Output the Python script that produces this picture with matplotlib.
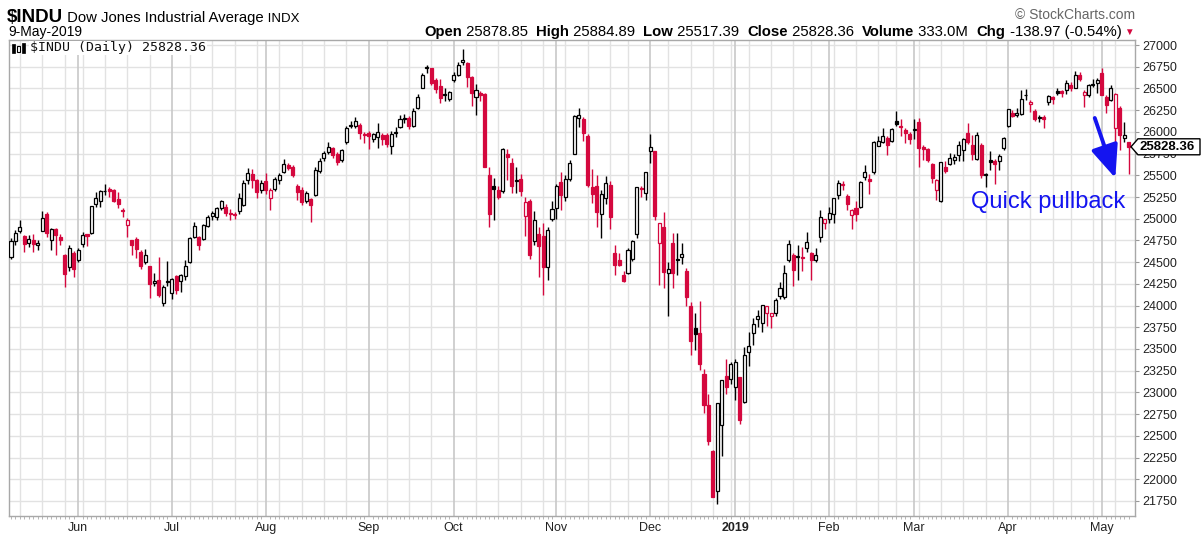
import numpy as np
import pandas as pd
import matplotlib
matplotlib.use("Agg")
import matplotlib.pyplot as plt
from matplotlib.patches import Polygon, Rectangle

# ---------------- data ----------------
START = "2018-05-10"
END = "2019-05-09"
HOLIDAYS = ["2018-05-28", "2018-07-04", "2018-09-03", "2018-11-22", "2018-12-05",
            "2018-12-25", "2019-01-01", "2019-01-21", "2019-02-18", "2019-04-19"]

OPEN = [24560, 24740, 24860, 24800, 24715, 24750, 24700, 24860, 25050, 24750,
        24880, 24790, 24580, 24440, 24610, 24520, 24710, 24820, 24830, 25170,
        25200, 25315, 25340, 25330, 25230, 25100, 24930, 24750, 24770, 24620,
        24500, 24450, 24260, 24300, 24030, 24280, 24140, 24340, 24280, 24340,
        24500, 24790, 24790, 24770, 24920, 25030, 25020, 25120, 25140, 25070,
        25050, 25090, 25160, 25450, 25510, 25450, 25330, 25440, 25240, 25340,
        25450, 25540, 25620, 25590, 25380, 25330, 25200, 25230, 25270, 25550,
        25700, 25770, 25810, 25750, 25680, 25880, 26070, 26070, 26080, 25970,
        25990, 25920, 25940, 25960, 25960, 25840, 25990, 26060, 26160, 26160,
        26070, 26280, 26510, 26740, 26730, 26600, 26530, 26420, 26380, 26600,
        26650, 26810, 26790, 26630, 26400, 26450, 26440, 25500, 25380, 25330,
        25320, 25740, 25640, 25430, 25460, 25030, 25200, 24740, 24820, 24800,
        24440, 25000, 25120, 25420, 25250, 25460, 25750, 26160, 26150, 25950,
        25370, 25380, 25050, 25240, 25390, 24610, 24530, 24350, 24380, 24540,
        24820, 25340, 25300, 25780, 25780, 24720, 24900, 24380, 24720, 24540,
        24560, 24400, 24000, 23740, 23680, 23210, 22850, 22320, 21860, 22630,
        23190, 23150, 23060, 23180, 22890, 23470, 23680, 23850, 23800, 23910,
        23880, 23920, 24110, 24100, 24530, 24580, 24560, 24560, 24660, 24600,
        24520, 24790, 24950, 25000, 25050, 25270, 25400, 25260, 25040, 25120,
        25130, 25480, 25460, 25540, 25840, 25880, 25930, 25890, 26130, 26060,
        26020, 25980, 26020, 26110, 25830, 25800, 25630, 25330, 25200, 25600,
        25630, 25680, 25730, 25790, 25990, 25850, 25690, 25850, 25500, 25680,
        25660, 25670, 25810, 26070, 26220, 26200, 26210, 26420, 26320, 26240,
        26160, 26170, 26340, 26400, 26474, 26470, 26480, 26540, 26505, 26660,
        26424, 26430, 26540, 26560, 26680, 26405, 26367, 26040, 26275, 25930,
        25879]
HIGH = [24775, 24870, 24985, 24810, 24810, 24825, 24760, 25086, 25080, 24890,
        24890, 24820, 24590, 24700, 24630, 24660, 24850, 24825, 25150, 25312,
        25330, 25400, 25360, 25340, 25311, 25120, 25005, 24760, 24790, 24640,
        24650, 24460, 24370, 24560, 24240, 24510, 24320, 24350, 24360, 24520,
        24790, 24960, 24800, 24940, 25040, 25090, 25130, 25220, 25170, 25110,
        25080, 25300, 25450, 25580, 25570, 25460, 25450, 25530, 25350, 25480,
        25530, 25690, 25640, 25620, 25400, 25360, 25320, 25240, 25600, 25700,
        25780, 25880, 25830, 25770, 25800, 26070, 26120, 26170, 26100, 26000,
        26010, 25990, 26100, 25990, 25990, 26010, 26060, 26190, 26210, 26180,
        26280, 26440, 26680, 26770, 26740, 26620, 26610, 26500, 26470, 26690,
        26800, 26951, 26800, 26640, 26550, 26470, 26450, 25600, 25470, 25380,
        25820, 25800, 25700, 25600, 25520, 25250, 25230, 25090, 24900, 24950,
        24900, 25200, 25400, 25540, 25500, 25680, 26190, 26280, 26170, 25980,
        25570, 25500, 25330, 25490, 25440, 24700, 24600, 24400, 24660, 24760,
        25370, 25380, 25540, 25980, 25780, 24950, 25080, 24500, 24830, 24830,
        24720, 24430, 24040, 23910, 24050, 23270, 22980, 22340, 22880, 23140,
        23380, 23350, 23390, 23180, 23520, 23690, 23860, 23950, 24000, 24000,
        23920, 24090, 24270, 24470, 24750, 24600, 24700, 24680, 24850, 24620,
        24660, 25100, 25000, 25140, 25240, 25450, 25440, 25280, 25110, 25200,
        25440, 25620, 25520, 25890, 25950, 26050, 25950, 26050, 26240, 26150,
        26040, 26000, 26150, 26160, 25850, 25810, 25640, 25460, 25650, 25660,
        25760, 25750, 25900, 25930, 26100, 25960, 26000, 25870, 25530, 25780,
        25690, 25750, 25940, 26260, 26250, 26280, 26480, 26490, 26370, 26260,
        26200, 26200, 26420, 26410, 26500, 26480, 26600, 26570, 26700, 26690,
        26480, 26550, 26610, 26620, 26740, 26420, 26540, 26450, 26300, 26117,
        25885]
LOW = [24540, 24700, 24840, 24620, 24680, 24620, 24640, 24860, 24790, 24640,
       24580, 24700, 24217, 24400, 24330, 24500, 24680, 24690, 24820, 25140,
       25140, 25273, 25250, 25190, 25120, 25020, 24793, 24580, 24544, 24420,
       24480, 24084, 24220, 24100, 23997, 24230, 24080, 24130, 24160, 24300,
       24490, 24780, 24640, 24750, 24900, 24990, 24990, 25100, 25030, 24990,
       25000, 25060, 25150, 25400, 25350, 25240, 25300, 25290, 25100, 25320,
       25400, 25530, 25560, 25480, 25220, 25160, 25180, 24965, 25260, 25530,
       25660, 25750, 25700, 25620, 25650, 25860, 26040, 26050, 25920, 25870,
       25800, 25880, 25810, 25850, 25830, 25740, 25940, 26050, 26100, 26030,
       26060, 26260, 26500, 26680, 26540, 26450, 26330, 26350, 26350, 26580,
       26640, 26770, 26520, 26300, 26190, 26350, 25600, 24900, 24990, 25230,
       25300, 25450, 25300, 25300, 25260, 24800, 24540, 24700, 24330, 24122,
       24300, 24970, 25000, 25100, 25200, 25440, 25740, 26060, 25890, 25360,
       25180, 24900, 24780, 25170, 24880, 24350, 24450, 24270, 24360, 24510,
       24780, 25250, 25220, 25640, 24990, 24242, 24200, 23880, 24200, 24350,
       24480, 24000, 23430, 23490, 23260, 22760, 22400, 21792, 21712, 22270,
       22980, 23100, 22910, 22640, 22880, 23300, 23550, 23750, 23700, 23760,
       23740, 23880, 24080, 24080, 24500, 24220, 24290, 24400, 24620, 24300,
       24500, 24730, 24880, 24950, 24950, 25230, 25330, 25100, 24880, 24970,
       25120, 25450, 25290, 25520, 25840, 25870, 25730, 25880, 26070, 25950,
       25870, 25860, 25920, 25600, 25680, 25650, 25410, 25210, 25190, 25530,
       25620, 25630, 25670, 25670, 25860, 25680, 25680, 25470, 25360, 25560,
       25400, 25560, 25790, 26060, 26170, 26170, 26190, 26370, 26230, 26120,
       26110, 26050, 26310, 26320, 26420, 26400, 26440, 26470, 26500, 26590,
       26290, 26400, 26520, 26450, 26420, 26217, 26360, 25800, 25790, 25887,
       25517]
CLOSE = [24739, 24831, 24899, 24706, 24768, 24713, 24715, 25013, 24834, 24886,
         24811, 24753, 24361, 24667, 24416, 24635, 24813, 24799, 25146, 25241,
         25317, 25322, 25320, 25201, 25175, 25090, 24987, 24700, 24657, 24461,
         24581, 24252, 24283, 24117, 24216, 24271, 24307, 24174, 24356, 24456,
         24776, 24920, 24700, 24924, 25019, 25064, 25120, 25199, 25064, 25058,
         25044, 25241, 25414, 25527, 25451, 25307, 25415, 25333, 25326, 25462,
         25502, 25628, 25583, 25509, 25313, 25187, 25299, 25162, 25558, 25669,
         25758, 25822, 25733, 25656, 25790, 26049, 26064, 26124, 25986, 25964,
         25952, 25974, 25995, 25916, 25857, 25971, 25998, 26145, 26154, 26062,
         26246, 26405, 26657, 26743, 26562, 26492, 26385, 26439, 26458, 26651,
         26774, 26828, 26627, 26447, 26486, 26430, 25599, 25053, 25340, 25250,
         25798, 25706, 25380, 25444, 25317, 25191, 24583, 24985, 24689, 24443,
         24875, 25116, 25380, 25271, 25462, 25636, 26181, 26191, 25989, 25388,
         25286, 25080, 25289, 25413, 25017, 24465, 24464, 24286, 24640, 24748,
         25366, 25339, 25538, 25826, 25027, 24947, 24389, 24423, 24370, 24527,
         24597, 24100, 23592, 23675, 23323, 22859, 22445, 21792, 22878, 23138,
         23062, 23327, 23346, 22686, 23433, 23531, 23787, 23879, 24001, 23996,
         23910, 24066, 24207, 24370, 24706, 24404, 24575, 24553, 24737, 24528,
         24580, 25015, 24999, 25064, 25239, 25411, 25390, 25169, 25106, 25053,
         25425, 25543, 25439, 25883, 25891, 25954, 25850, 26031, 26091, 26057,
         25985, 25916, 26026, 25820, 25806, 25673, 25473, 25450, 25650, 25554,
         25702, 25709, 25848, 25914, 25887, 25745, 25962, 25502, 25516, 25658,
         25625, 25717, 25928, 26258, 26179, 26218, 26384, 26425, 26341, 26150,
         26157, 26143, 26412, 26384, 26452, 26449, 26559, 26511, 26656, 26609,
         26462, 26543, 26554, 26593, 26430, 26308, 26505, 26438, 25965, 25968,
         25828]

MONTH_LABELS = ["Jun", "Jul", "Aug", "Sep", "Oct", "Nov", "Dec", "2019", "Feb", "Mar", "Apr", "May"]
Y_TICKS = list(range(21750, 27001, 250))

TITLE_SYMBOL = "$INDU"
TITLE_NAME = "Dow Jones Industrial Average"
TITLE_EXCH = "INDX"
DATE_TEXT = "9-May-2019"
HEADER = [("Open", True), (" 25878.85  ", False), ("High", True), (" 25884.89  ", False),
          ("Low", True), (" 25517.39  ", False), ("Close", True), (" 25828.36  ", False),
          ("Volume", True), (" 333.0M  ", False), ("Chg", True), (" -138.97 (-0.54%)", False)]
LAST_PRICE = 25828.36
ANNOT_TEXT = "Quick pullback"

RED = "#d4083e"
BLUE = "#1414f0"

# ---------------- dates ----------------
dates = pd.bdate_range(START, END)
dates = dates[~dates.isin(pd.to_datetime(HOLIDAYS))]
n = len(CLOSE)
dates = dates[:n]
idx = np.arange(n)

O = np.array(OPEN, float)
H = np.array(HIGH, float)
L = np.array(LOW, float)
C = np.array(CLOSE, float)
prev = np.r_[C[0], C[:-1]]
up = C >= prev
col = np.where(up, "black", RED)
hollow = C >= O

W, Hpx = 1202, 537
fig = plt.figure(figsize=(W / 100, Hpx / 100), dpi=100)
plt.rcParams['font.family'] = ['Liberation Sans', 'DejaVu Sans']

def fx(x):
    return x / W

def fy(y):
    return 1 - y / Hpx

ax = fig.add_axes([fx(9), fy(516), fx(1135) - fx(9), fy(40) - fy(516)])
ax.set_xlim(-0.45, 251.4)
ax.set_ylim(21577, 27058)

# grid
for v in Y_TICKS:
    ax.axhline(v, color="#e2e2e2", lw=1, zorder=0)
month_pos = [i for i in range(1, n) if dates[i].month != dates[i - 1].month]
week_pos = [i for i in range(1, n) if dates[i].isocalendar()[1] != dates[i - 1].isocalendar()[1]]
for i in week_pos:
    if i not in month_pos:
        ax.axvline(i, color="#e2e2e2", lw=1, zorder=0)
for i in month_pos:
    ax.axvline(i, color="#c8c8c8", lw=1.2, zorder=0)

# candles
ax.vlines(idx, L, H, colors=col, lw=1.0, zorder=2)
body_h = np.maximum(np.abs(C - O), 10)
ax.bar(idx, body_h, bottom=np.minimum(O, C), width=0.68,
       color=np.where(hollow, "white", col), edgecolor=col, linewidth=0.9, zorder=3)

# axes styling
ax.yaxis.tick_right()
ax.set_yticks(Y_TICKS)
ax.set_yticklabels([str(v) for v in Y_TICKS])
ax.tick_params(axis="y", which="major", length=3, width=0.8, color="#999999",
               labelsize=9, pad=2, labelcolor="#222222")
ax.set_xticks(month_pos)
ax.set_xticklabels(MONTH_LABELS)
for lab in ax.get_xticklabels():
    if lab.get_text() == "2019":
        lab.set_fontweight("bold")
ax.tick_params(axis="x", which="major", length=0, labelsize=9, pad=4, labelcolor="#222222")
ax.set_xticks(idx, minor=True)
ax.tick_params(axis="x", which="minor", length=2, width=0.6, color="#aaaaaa")
for s in ax.spines.values():
    s.set_color("#a8a8a8")
    s.set_linewidth(1)

# annotation
ax.annotate("", xy=(247.0, 25469), xytext=(242.4, 26160),
            arrowprops=dict(arrowstyle="-|>,head_length=1.0,head_width=0.42",
                            mutation_scale=20, lw=2.8, color=BLUE,
                            shrinkA=0, shrinkB=0), zorder=5)
ax.text(232, 25190, ANNOT_TEXT, color=BLUE, fontsize=17, ha="center", va="center", zorder=5)

# in-plot label
fig.text(fx(30), fy(48), "$INDU (Daily) %.2f" % LAST_PRICE, family="DejaVu Sans Mono",
         fontsize=9.5, ha="left", va="center", color="#111111",
         bbox=dict(fc="white", ec="none", pad=0.5))
fig.patches.append(Rectangle((fx(12), fy(53)), fx(3), fy(44) - fy(53), transform=fig.transFigure,
                             fc="black", ec="black", lw=0.5))
fig.patches.append(Rectangle((fx(17), fy(52)), fx(3), fy(46) - fy(52), transform=fig.transFigure,
                             fc="white", ec="black", lw=0.8))
fig.patches.append(Rectangle((fx(22), fy(53)), fx(3), fy(43) - fy(53), transform=fig.transFigure,
                             fc="black", ec="black", lw=0.5))

# header
fig.canvas.draw()
r = fig.canvas.get_renderer()
x = 7
for s, size, weight in [(TITLE_SYMBOL, 13.5, "bold"), (" " + TITLE_NAME, 10.7, "normal"),
                        (" " + TITLE_EXCH, 9.5, "normal")]:
    t = fig.text(fx(x), fy(22), s, fontsize=size, fontweight=weight, ha="left",
                 va="baseline", color="black")
    x += t.get_window_extent(r).width
fig.text(fx(8), fy(36), DATE_TEXT, fontsize=10, ha="left", va="baseline", color="black")
x = 424
for s, bold in HEADER:
    t = fig.text(fx(x), fy(36), s, fontsize=10.7, fontweight="bold" if bold else "normal",
                 ha="left", va="baseline", color="black")
    x += t.get_window_extent(r).width
fig.text(fx(x + 3), fy(32), "\u25BC", fontsize=7, color=RED, ha="left", va="center")
fig.text(fx(1135), fy(15), "\u00A9 StockCharts.com", fontsize=10, color="#666666",
         ha="right", va="center")

# last price box
ypix = 40 + (27058 - LAST_PRICE) / (27058 - 21577) * (516 - 40)
pts = [(1131, ypix), (1138, ypix - 8), (1200, ypix - 8), (1200, ypix + 8), (1138, ypix + 8)]
fig.patches.append(Polygon([(fx(a), fy(b)) for a, b in pts], closed=True,
                           transform=fig.transFigure, fc="white", ec="black", lw=1, zorder=5))
fig.text(fx(1140), fy(ypix), "%.2f" % LAST_PRICE, fontsize=9.5, fontweight="bold",
         ha="left", va="center", zorder=6)

fig.savefig("out.png", dpi=100)
